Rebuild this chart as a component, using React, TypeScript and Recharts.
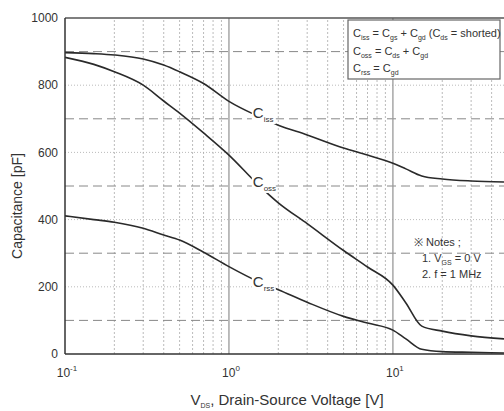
import React from "react";
import { LineChart, Line, XAxis, YAxis, ReferenceLine, ReferenceDot } from "recharts";

const vds = [0.1, 0.15, 0.2, 0.3, 0.4, 0.5, 0.7, 1, 1.5, 2, 3, 5, 7, 10, 12, 15, 20, 30, 47.6];
const ciss = [897, 894, 890, 878, 860, 840, 805, 752, 708, 681, 652, 613, 592, 568, 551, 530, 521, 515, 512];
const coss = [883, 862, 840, 800, 753, 717, 658, 592, 505, 450, 388, 308, 259, 205, 152, 83, 68, 54, 45];
const crss = [411, 400, 392, 374, 354, 339, 303, 260, 216, 191, 154, 112, 92, 71, 45, 14, 7, 5, 3];

const xTicks = [0.1, 1, 10];
const xExponents = ["-1", "0", "1"];
const yTicks = [0, 200, 400, 600, 800, 1000];
const yDashed = [100, 300, 500, 700, 900];
const yDotted = [200, 400, 600, 800];
const xMinor = [0.2, 0.3, 0.4, 0.5, 0.6, 0.7, 0.8, 0.9, 2, 3, 4, 5, 6, 7, 8, 9, 20, 30, 40];
const xDecades = [1, 10];

const curveLabels = [
  { v: 1.5, c: 717, sub: "iss" },
  { v: 1.5, c: 512, sub: "oss" },
  { v: 1.5, c: 214, sub: "rss" },
];

const data = vds.map((v, i) => ({ v, ciss: ciss[i], coss: coss[i], crss: crss[i] }));

const FONT = "'Liberation Sans', Arial, Helvetica, sans-serif";

const XTick = (props: any) => {
  const { x, y, payload } = props;
  const idx = xTicks.indexOf(payload.value);
  const exp = idx >= 0 ? xExponents[idx] : "";
  return (
    <text x={x + 2} y={y + 23} textAnchor="middle" fontSize={12} fill="#333" fontFamily={FONT}>
      <tspan>10</tspan>
      <tspan dy={-6} fontSize={8}>{exp}</tspan>
    </text>
  );
};

const CurveLabel = (sub: string) => (props: any) => {
  const { cx, cy } = props;
  return (
    <g>
      <rect x={cx - 6} y={cy - 9} width={24} height={20} fill="#fff" />
      <text x={cx - 5} y={cy + 5} fontSize={15} fill="#333" fontFamily={FONT}>
        C
        <tspan dy={4} fontSize={8}>{sub}</tspan>
      </text>
    </g>
  );
};

const Sub = ({ children }: { children: React.ReactNode }) => (
  <tspan fontSize={7} dy={3}>{children}</tspan>
);
const Up = ({ children }: { children: React.ReactNode }) => <tspan dy={-3}>{children}</tspan>;

export default function App() {
  return (
    <div style={{ position: "fixed", left: 0, top: 0, width: 504, height: 411, background: "#fff", fontFamily: FONT }}>
      <LineChart
        width={504}
        height={411}
        data={data}
        margin={{ top: 18, right: 0, left: 20, bottom: 27 }}
      >
        <XAxis
          dataKey="v"
          type="number"
          scale="log"
          domain={[0.1, 47.6]}
          allowDataOverflow
          ticks={xTicks}
          tick={<XTick />}
          tickLine={false}
          tickSize={0}
          tickMargin={0}
          height={30}
          axisLine={{ stroke: "#333", strokeWidth: 1.5 }}
        />
        <YAxis
          type="number"
          domain={[0, 1000]}
          ticks={yTicks}
          width={45}
          tickLine={false}
          tickSize={0}
          tickMargin={7}
          tick={{ fontSize: 12, fill: "#333", fontFamily: FONT }}
          axisLine={{ stroke: "#333", strokeWidth: 1.5 }}
        />
        {xMinor.map((x) => (
          <ReferenceLine key={"xm" + x} x={x} stroke="#aaa" strokeWidth={0.8} strokeDasharray="2 2" />
        ))}
        {yDotted.map((y) => (
          <ReferenceLine key={"yd" + y} y={y} stroke="#aaa" strokeWidth={0.8} strokeDasharray="1 2" />
        ))}
        {yDashed.map((y) => (
          <ReferenceLine key={"ys" + y} y={y} stroke="#888" strokeWidth={1} strokeDasharray="9 5" />
        ))}
        {xDecades.map((x) => (
          <ReferenceLine key={"xd" + x} x={x} stroke="#999" strokeWidth={1.3} />
        ))}
        <ReferenceLine y={1000} stroke="#555" strokeWidth={1.3} />
        <Line type="monotone" dataKey="ciss" stroke="#2a2a2a" strokeWidth={1.6} dot={false} isAnimationActive={false} />
        <Line type="monotone" dataKey="coss" stroke="#2a2a2a" strokeWidth={1.6} dot={false} isAnimationActive={false} />
        <Line type="monotone" dataKey="crss" stroke="#2a2a2a" strokeWidth={1.6} dot={false} isAnimationActive={false} />
        {curveLabels.map((l) => (
          <ReferenceDot key={l.sub} x={l.v} y={l.c} r={0} shape={CurveLabel(l.sub)} />
        ))}
      </LineChart>
      <svg
        width={504}
        height={411}
        style={{ position: "absolute", left: 0, top: 0, pointerEvents: "none" }}
        fontFamily={FONT}
      >
        <rect x={348} y={20} width={152} height={59} fill="#fff" stroke="#666" strokeWidth={1.2} />
        <text x={353} y={37} fontSize={11} fill="#333">
          C<Sub>iss</Sub><Up> = C</Up><Sub>gs</Sub><Up> + C</Up><Sub>gd</Sub><Up> (C</Up><Sub>ds</Sub><Up> = shorted)</Up>
        </text>
        <text x={353} y={55} fontSize={11} fill="#333">
          C<Sub>oss</Sub><Up> = C</Up><Sub>ds</Sub><Up> + C</Up><Sub>gd</Sub>
        </text>
        <text x={353} y={72} fontSize={11} fill="#333">
          C<Sub>rss</Sub><Up> = C</Up><Sub>gd</Sub>
        </text>
        <text x={414} y={246} fontSize={11} fill="#333">※ Notes ;</text>
        <text x={422} y={262} fontSize={11} fill="#333">
          1. V<Sub>GS</Sub><Up> = 0 V</Up>
        </text>
        <text x={422} y={278} fontSize={11} fill="#333">2. f = 1 MHz</text>
        <text
          x={22}
          y={206}
          fontSize={14}
          fill="#333"
          textAnchor="middle"
          transform="rotate(-90 22 206)"
        >
          Capacitance [pF]
        </text>
        <text x={287} y={405} fontSize={15} fill="#333" textAnchor="middle">
          V<Sub>DS</Sub><Up>, Drain-Source Voltage [V]</Up>
        </text>
      </svg>
    </div>
  );
}
